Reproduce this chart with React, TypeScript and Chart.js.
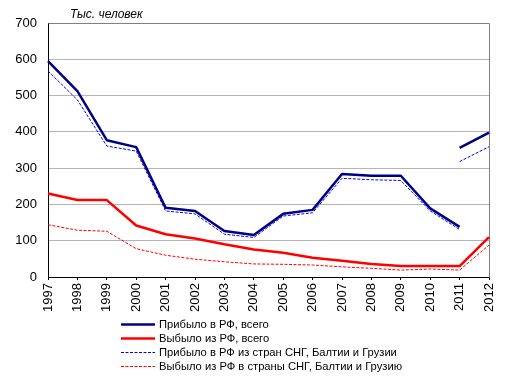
import React, { useEffect, useRef } from "react";
import { Chart, registerables } from "chart.js";

Chart.register(...registerables);

const years = ["1997", "1998", "1999", "2000", "2001", "2002", "2003", "2004", "2005", "2006", "2007", "2008", "2009", "2010", "2011", "2012"];
const yTicks = [0, 100, 200, 300, 400, 500, 600, 700];

const arrivalsTotal = [595, 512, 377, 358, 191, 182, 127, 116, 174, 185, 284, 279, 279, 189, 138, null];
const arrivalsTotalNew = [null, null, null, null, null, null, null, null, null, null, null, null, null, null, 356, 398];
const departuresTotal = [230, 212, 212, 142, 118, 106, 90, 76, 67, 53, 45, 36, 30, 30, 30, 110];
const arrivalsCIS = [568, 488, 361, 347, 182, 174, 118, 109, 168, 177, 272, 268, 266, 182, 131, null];
const arrivalsCISNew = [null, null, null, null, null, null, null, null, null, null, null, null, null, null, 318, 359];
const departuresCIS = [144, 129, 126, 78, 60, 49, 42, 36, 35, 33, 28, 24, 19, 22, 19, 88];

const unitLabel = "Тыс. человек";
const legendLabels = [
  "Прибыло в РФ, всего",
  "Выбыло из РФ, всего",
  "Прибыло в РФ из стран СНГ, Балтии и Грузии",
  "Выбыло из РФ в страны СНГ, Балтии и Грузию",
];

const NAVY = "#000080";
const RED = "#FF0000";
const BLUE = "#0000FF";
const DASH = [3, 1.5];
const SOLID_W = 2.5;
const FONT = "Arial, 'Liberation Sans', sans-serif";

const legendStyles = [
  { color: NAVY, width: SOLID_W, dash: [] as number[] },
  { color: RED, width: SOLID_W, dash: [] as number[] },
  { color: BLUE, width: 1, dash: DASH },
  { color: RED, width: 1, dash: DASH },
];

const framePlugin = {
  id: "frame",
  beforeDatasetsDraw(chart: any) {
    const { ctx, chartArea } = chart;
    ctx.save();
    ctx.strokeStyle = "#808080";
    ctx.lineWidth = 1;
    ctx.beginPath();
    const l = Math.round(chartArea.left) + 0.5;
    const t = Math.round(chartArea.top) + 0.5;
    const r = Math.round(chartArea.right) + 0.5;
    const b = Math.round(chartArea.bottom) + 0.5;
    ctx.moveTo(l, t);
    ctx.lineTo(r, t);
    ctx.lineTo(r, b);
    ctx.stroke();
    ctx.restore();
  },
  afterDraw(chart: any) {
    const { ctx } = chart;
    ctx.save();
    ctx.fillStyle = "#000";
    ctx.font = `italic 12px ${FONT}`;
    ctx.textBaseline = "alphabetic";
    ctx.textAlign = "left";
    ctx.fillText(unitLabel, 70, 18);

    const rows = [324.5, 338.5, 352.5, 366.5];
    ctx.font = `11.2px ${FONT}`;
    ctx.textBaseline = "middle";
    legendLabels.forEach((label, i) => {
      const s = legendStyles[i];
      ctx.beginPath();
      ctx.strokeStyle = s.color;
      ctx.lineWidth = s.width;
      ctx.setLineDash(s.dash);
      ctx.moveTo(121, rows[i]);
      ctx.lineTo(155, rows[i]);
      ctx.stroke();
      ctx.setLineDash([]);
      ctx.fillStyle = "#000";
      ctx.fillText(label, 159, rows[i]);
    });
    ctx.restore();
  },
};

export default function App() {
  const ref = useRef<HTMLCanvasElement>(null);

  useEffect(() => {
    if (!ref.current) return;
    const common = { pointRadius: 0, pointHoverRadius: 0, tension: 0, spanGaps: false, fill: false, borderJoinStyle: "round" as const };
    const chart = new Chart(ref.current, {
      type: "line",
      data: {
        labels: years,
        datasets: [
          { ...common, label: legendLabels[0], data: arrivalsTotal, borderColor: NAVY, borderWidth: SOLID_W },
          { ...common, label: legendLabels[0] + " (new)", data: arrivalsTotalNew, borderColor: NAVY, borderWidth: SOLID_W },
          { ...common, label: legendLabels[1], data: departuresTotal, borderColor: RED, borderWidth: SOLID_W },
          { ...common, label: legendLabels[2], data: arrivalsCIS, borderColor: BLUE, borderWidth: 1, borderDash: DASH },
          { ...common, label: legendLabels[2] + " (new)", data: arrivalsCISNew, borderColor: BLUE, borderWidth: 1, borderDash: DASH },
          { ...common, label: legendLabels[3], data: departuresCIS, borderColor: RED, borderWidth: 1, borderDash: DASH },
        ],
      },
      options: {
        responsive: false,
        animation: false,
        layout: { padding: { top: 23, right: 25, left: 0, bottom: 0 } },
        plugins: { legend: { display: false }, tooltip: { enabled: false }, title: { display: false } },
        scales: {
          x: {
            type: "category",
            offset: false,
            grid: { display: true, drawOnChartArea: false, drawTicks: true, tickLength: 3, color: "#000" },
            border: { display: true, color: "#000", width: 1 },
            ticks: {
              minRotation: 90,
              maxRotation: 90,
              autoSkip: false,
              padding: 3,
              color: "#000",
              font: { family: FONT, size: 13 },
            },
            afterFit(scale: any) {
              scale.height = 101;
            },
          },
          y: {
            min: 0,
            max: 700,
            afterBuildTicks(scale: any) {
              scale.ticks = yTicks.map((v) => ({ value: v }));
            },
            grid: { color: "#b4b4b4", drawTicks: false },
            border: { display: true, color: "#000", width: 1 },
            ticks: {
              padding: 11,
              color: "#000",
              font: { family: FONT, size: 13 },
            },
            afterFit(scale: any) {
              scale.width = 48;
            },
          },
        },
      },
      plugins: [framePlugin],
    });
    return () => chart.destroy();
  }, []);

  return (
    <div style={{ position: "fixed", left: 0, top: 0, width: 514, height: 378, background: "#fff" }}>
      <canvas ref={ref} width={514} height={378} style={{ width: 514, height: 378, display: "block" }} />
    </div>
  );
}
